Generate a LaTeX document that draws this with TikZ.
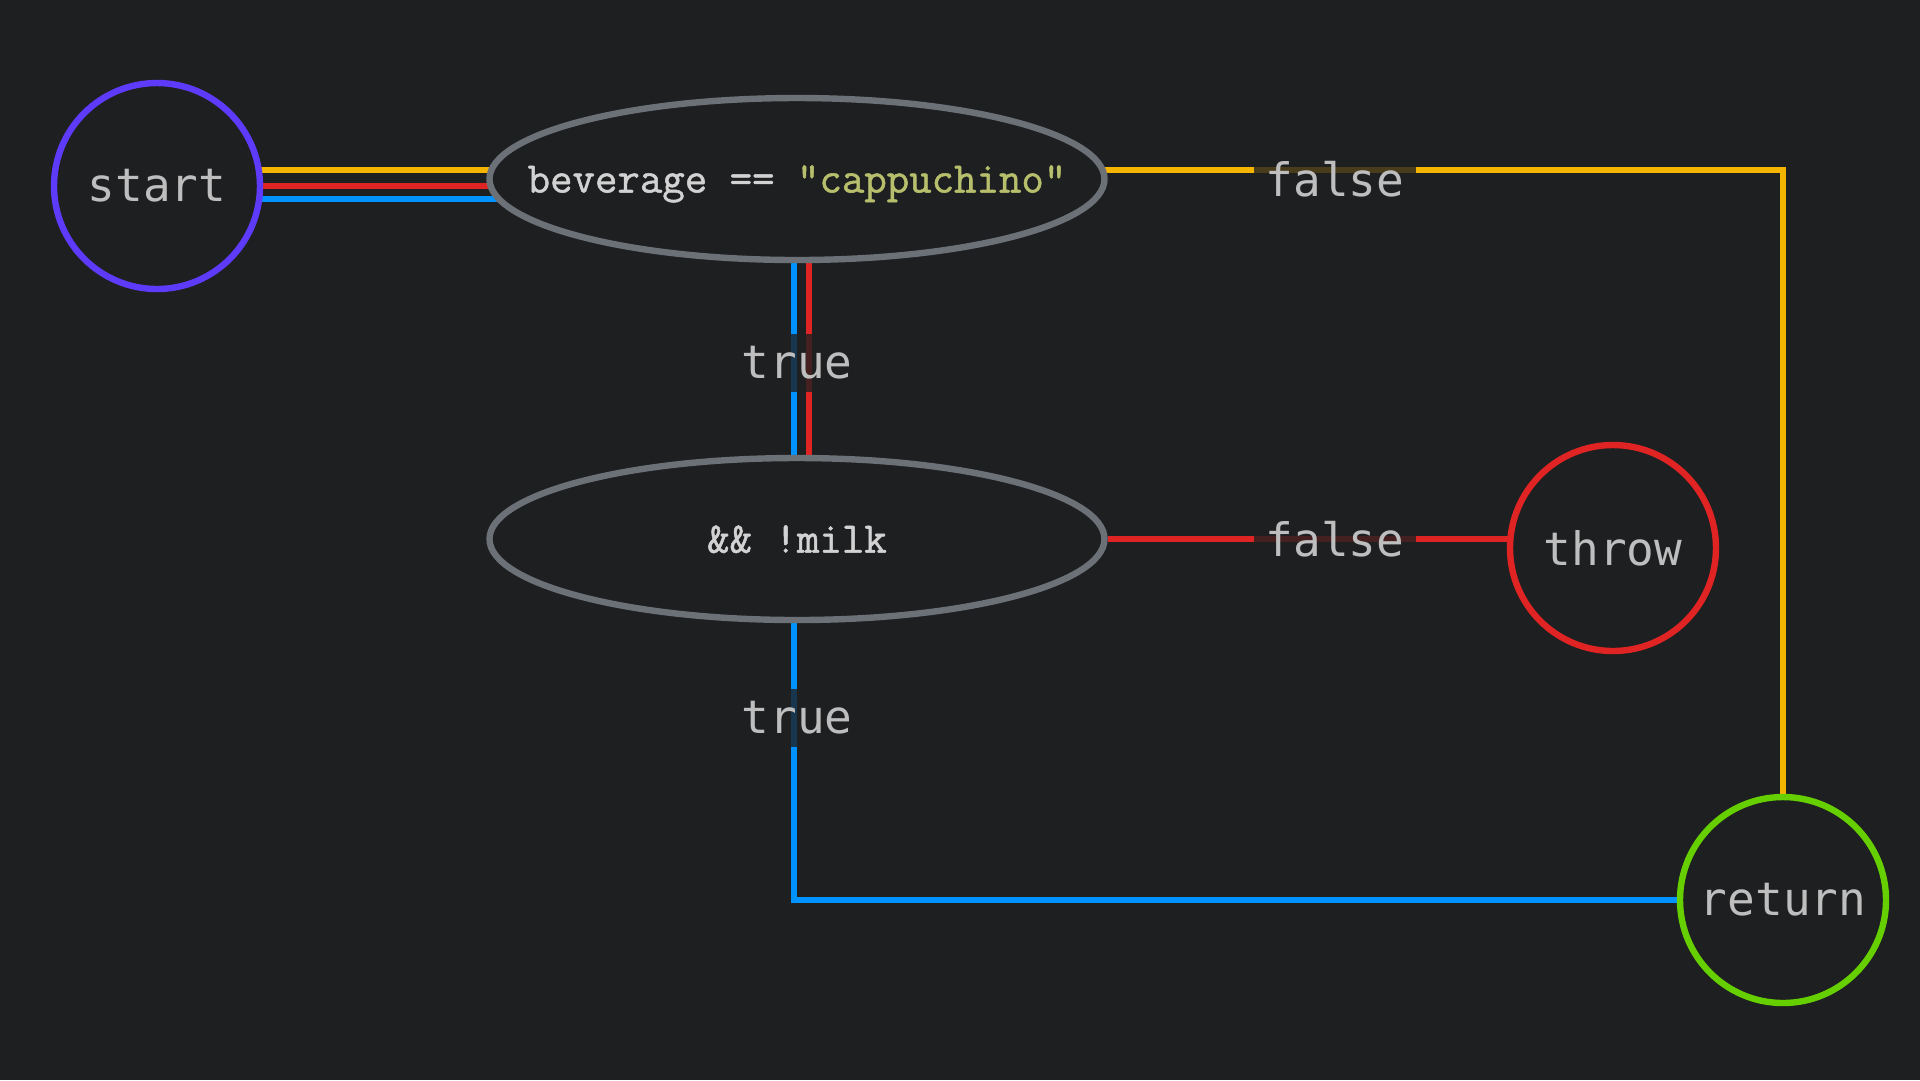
\documentclass[tikz,border=0pt]{standalone}
\usepackage{xcolor}
\usepackage{fontspec}
\usepackage{tikz}
\usetikzlibrary{shapes.geometric, calc, backgrounds}

\newfontfamily\labelfont{DejaVu Sans Mono}
\newfontfamily\codefont[FakeBold=1.2]{Latin Modern Mono}

\definecolor{canvas}{HTML}{1E1F21}
\definecolor{ink}{HTML}{BEBEBE}
\definecolor{codeink}{HTML}{D2D2D2}
\definecolor{rim}{HTML}{6C7077}
\definecolor{strlit}{HTML}{B7BF6C}
\definecolor{startc}{HTML}{5E3BFA}
\definecolor{failc}{HTML}{E02424}
\definecolor{okc}{HTML}{66CF00}
\definecolor{goldrun}{HTML}{F5B400}
\definecolor{redrun}{HTML}{E02424}
\definecolor{bluerun}{HTML}{0092FF}

\newcommand{\fixedtext}[1]{\makebox[0pt]{#1}}

\begin{document}
\begin{tikzpicture}[
    x=0.1mm, y=-0.1mm,
    line width=0.64mm,
    state/.style={circle, draw, fill=canvas, minimum size=20.6mm, inner sep=0pt,
                  text=ink, font=\labelfont\fontsize{13.1}{15}\selectfont},
    test/.style={ellipse, draw=rim, fill=canvas, minimum width=61.5mm,
                 minimum height=16.2mm, inner sep=0pt, text=codeink, text depth=0pt,
                 font=\codefont\fontsize{12.4}{14}\selectfont},
    tag/.style={fill=canvas, fill opacity=0.8, text opacity=1, text=ink,
                minimum width=16.2mm, minimum height=5.8mm, inner sep=0pt,
                font=\labelfont\fontsize{13.1}{15}\selectfont},
    run/.style={draw=#1, line width=0.6mm},
]

% --- canvas ---------------------------------------------------------------
\begin{scope}[on background layer]
  \fill[canvas] (0,0) rectangle (1920,1080);
\end{scope}

% --- states and tests -----------------------------------------------------
\node[state, draw=startc] (start) at (157,186) {start};
\node[test] (bev)  at (797,179)
    {\fixedtext{beverage == {\color{strlit}"cappuchino"}}};
\node[test] (milk) at (797,539) {\fixedtext{\&\& !milk}};
\node[state, draw=failc] (throw) at (1613,548) {throw};
\node[state, draw=okc]   (ret)   at (1783,900) {return};

% --- runs through the checks ----------------------------------------------
\begin{scope}[on background layer]
  \draw[run=goldrun] ($(start)+(0,-16)$) -- ($(bev)+(0,-9)$) -| (ret);
  \draw[run=redrun]  (start) -- ($(bev)+(0,7)$);
  \draw[run=redrun]  ($(bev)+(12,0)$) -- ($(milk)+(12,0)$);
  \draw[run=redrun]  (milk) -- (milk -| throw);
  \draw[run=bluerun] ($(start)+(0,13)$) -- ($(bev)+(0,20)$);
  \draw[run=bluerun] ($(bev)+(-3,0)$) -- ($(milk)+(-3,0)$) |- (ret);
\end{scope}

% --- branch labels --------------------------------------------------------
\node[tag] (f1) at (1335,179) {false};
\node[tag] (t1) at (797,363)  {true};
\node[tag] (f2) at (1335,539) {false};
\node[tag] (t2) at (797,718)  {true};

\end{tikzpicture}
\end{document}
